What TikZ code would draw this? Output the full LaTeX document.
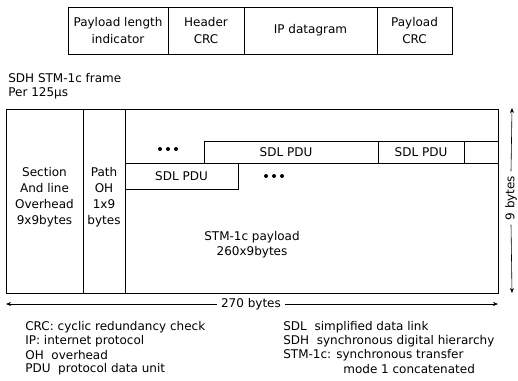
\documentclass[tikz,border=0pt]{standalone}
\usepackage{fontspec}
\setmainfont{DejaVu Sans}
\usetikzlibrary{arrows.meta}
\begin{document}
\begin{tikzpicture}[x=1pt,y=-1pt,line width=0.7pt,
  txt/.style={font=\fontsize{12}{16}\selectfont,inner sep=0pt,align=center},
  lgd/.style={font=\fontsize{12}{14}\selectfont,inner sep=0pt,anchor=west},
  field/.style={draw,minimum height=47pt,inner sep=0pt,align=center,font=\fontsize{12}{17}\selectfont},
  col/.style={draw,minimum height=184pt,inner sep=0pt},
  pdu/.style={draw,inner sep=0pt,font=\fontsize{12}{14}\selectfont},
  dimarrow/.style={-{Stealth[length=5pt,width=4pt]},line width=0.6pt},
  dot/.style={circle,fill,inner sep=0pt,minimum size=4pt}]
\useasboundingbox (0,0) rectangle (518,380);
% SDL PDU structure
\node[field,minimum width=100pt] (pli) at (118,30.5) {Payload length\\indicator};
\node[field,minimum width=76pt] (hcrc) at (206,30.5) {Header\\CRC};
\node[field,minimum width=133pt] (ipd) at (310.5,30.5) {IP datagram};
\node[field,minimum width=75pt] (pcrc) at (414.5,30.5) {Payload\\CRC};
% frame title
\node[lgd] (title1) at (8,78) {SDH STM-1c frame};
\node[lgd] (title2) at (8,93) {Per 125µs};
% frame columns
\node[col,minimum width=77pt] (soh) at (44.5,201) {};
\node[col,minimum width=42pt] (poh) at (104,201) {};
\node[col,minimum width=373pt] (pay) at (311.5,201) {};
\node[txt] (sohtxt) at (44.5,197.5) {Section\\And line\\Overhead\\9x9bytes};
\node[txt] (pohtxt) at (104,197.5) {Path\\OH\\1x9\\bytes};
\node[txt,font=\fontsize{12}{15}\selectfont] (paytxt) at (252,245) {STM-1c payload\\260x9bytes};
% SDL PDUs
\node[pdu,minimum width=174pt,minimum height=22pt] (pdu1) at (291,152) {};
\node[txt] (pdu1t) at (286,152) {SDL PDU};
\node[pdu,minimum width=86pt,minimum height=22pt] (pdu2) at (421,152) {SDL PDU};
\node[pdu,minimum width=34pt,minimum height=22pt] (pdu3) at (481,152) {};
\node[pdu,minimum width=113pt,minimum height=26pt] (pdu0) at (181.5,176) {SDL PDU};
% ellipses
\node[dot] (e1) at (160,149) {};
\node[dot] (e2) at (168,149) {};
\node[dot] (e3) at (176,149) {};
\node[dot] (f1) at (266,176) {};
\node[dot] (f2) at (274,176) {};
\node[dot] (f3) at (282,176) {};
% dimension 270 bytes
\coordinate (hl) at (6,304);
\coordinate (hr) at (498,304);
\node[txt,fill=white,inner xsep=4pt] (hlab) at (251,304) {270 bytes};
\draw[dimarrow] (hlab) -- (hl);
\draw[dimarrow] (hlab) -- (hr);
% dimension 9 bytes
\coordinate (vt) at (512,108);
\coordinate (vb) at (512,293);
\node[txt,fill=white,rotate=90,inner xsep=4pt] (vlab) at (511,198) {9 bytes};
\draw[dimarrow] (vlab.east) -- (vt);
\draw[dimarrow] (vlab.west) -- (vb);
% legend
\node[lgd] (l1) at (25,327) {CRC: cyclic redundancy check};
\node[lgd] (l2) at (25,341) {IP: internet protocol};
\node[lgd] (l3) at (25,355) {OH\ \ overhead};
\node[lgd] (l4) at (25,369) {PDU\ \ protocol data unit};
\node[lgd] (r1) at (283,327) {SDL\ \ simplified data link};
\node[lgd] (r2) at (283,341) {SDH\ \ synchronous digital hierarchy};
\node[lgd] (r3) at (283,355) {STM-1c: synchronous transfer};
\node[lgd] (r4) at (343,369) {mode 1 concatenated};
\end{tikzpicture}
\end{document}
